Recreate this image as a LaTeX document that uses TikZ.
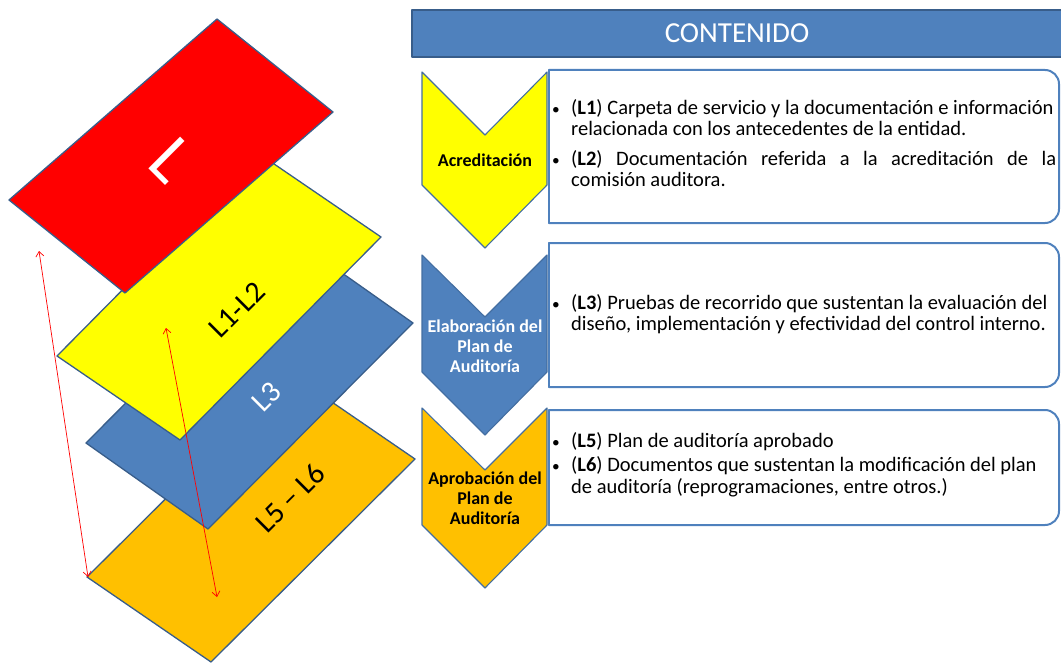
\documentclass[tikz,border=0pt]{standalone}
\usepackage{fontspec}
\setmainfont{Carlito}
\usetikzlibrary{arrows.meta}

\definecolor{rojo}{RGB}{255,0,0}
\definecolor{amarillo}{RGB}{255,255,0}
\definecolor{azul}{RGB}{79,129,189}
\definecolor{naranja}{RGB}{255,192,0}
\definecolor{borde}{RGB}{56,93,138}

\newcommand{\vineta}{\makebox[20pt][l]{\hspace{1pt}\scalebox{.75}{\textbullet}}}

\begin{document}
\begin{tikzpicture}[x={(1pt,0pt)}, y={(0pt,-1pt)}, line join=round, line cap=round,
	hoja/.style={draw=borde, line width=1.3pt},
	galon/.style={draw=azul!85!black, line width=1.1pt},
	caja/.style={draw=azul, line width=2pt},
	flecha/.style={<->, >={Straight Barb[length=5pt,width=8pt]}, rojo, line width=.7pt},
	etiq/.style={font=\fontsize{18}{20}\selectfont\bfseries, align=center, inner sep=0pt},
	texto/.style={font=\fontsize{20.5}{21.5}\selectfont, align=left, inner sep=0pt, anchor=north west}]

	\useasboundingbox (0,0) rectangle (1061,666);

	% Esquinas de las hojas (izquierda, superior, derecha, inferior)
	\coordinate (NI) at (87,577);  \coordinate (NS) at (291,374);
	\coordinate (ND) at (415,459); \coordinate (NB) at (211,662);
	\coordinate (ZI) at (86,443);  \coordinate (ZS) at (291,237);
	\coordinate (ZD) at (413,323); \coordinate (ZB) at (208,529);
	\coordinate (AI) at (57,356);  \coordinate (AS) at (258,153);
	\coordinate (AD) at (381,237); \coordinate (AB) at (180,440);
	\coordinate (RI) at (9,200);   \coordinate (RS) at (217,19);
	\coordinate (RD) at (333,112); \coordinate (RB) at (125,293);

	% Hojas apiladas, de abajo hacia arriba
	\filldraw[hoja, fill=naranja] (NI) -- (NS) -- (ND) -- (NB) -- cycle;
	\filldraw[hoja, fill=azul] (ZI) -- (ZS) -- (ZD) -- (ZB) -- cycle;
	\filldraw[hoja, fill=amarillo] (AI) -- (AS) -- (AD) -- (AB) -- cycle;
	\filldraw[hoja, fill=rojo] (RI) -- (RS) -- (RD) -- (RB) -- cycle;

	% Rotulos de las hojas
	\node[text=white, rotate=-45, font=\fontsize{70}{70}\selectfont] (letraL) at (172,160) {L};
	\node[rotate=45, font=\fontsize{30}{30}\selectfont] (hojaA) at (237,310) {L1-L2};
	\node[rotate=45, text=white, font=\fontsize{30}{30}\selectfont] (hojaZ) at (267,397) {L3};
	\node[rotate=45, font=\fontsize{30}{30}\selectfont] (hojaN) at (290,498) {L5 -- L6};

	% Flechas rojas
	\coordinate (f1a) at (39,251); \coordinate (f1b) at (88,577);
	\coordinate (f2a) at (166,328); \coordinate (f2b) at (217,597);
	\draw[flecha] (f1a) -- (f1b);
	\draw[flecha] (f2a) -- (f2b);

	% Encabezado
	\filldraw[fill=azul, draw=borde, line width=1.5pt] (412,10) rectangle (1066,57);
	\node[text=white, font=\fontsize{29}{29}\selectfont] (titulo) at (737,33) {CONTENIDO};

	% Cajas de texto
	\draw[caja, rounded corners=14pt] (549,70) -- (1059,70) -- (1059,223) -- (549,223);
	\draw[caja] (549,70) -- (549,223);
	\draw[caja, rounded corners=14pt] (549,243) -- (1059,243) -- (1059,387) -- (549,387);
	\draw[caja] (549,243) -- (549,387);
	\draw[caja, rounded corners=14pt] (549,410) -- (1059,410) -- (1059,525) -- (549,525);
	\draw[caja] (549,410) -- (549,525);

	% Galones
	\filldraw[galon, fill=amarillo] (422,72) -- (485,135) -- (547,72) -- (547,185) -- (485,248) -- (422,185) -- cycle;
	\filldraw[galon, fill=azul] (422,255) -- (485,317) -- (547,255) -- (547,372) -- (485,435) -- (422,372) -- cycle;
	\filldraw[galon, fill=naranja] (422,408) -- (485,470) -- (547,408) -- (547,525) -- (485,588) -- (422,525) -- cycle;

	\node[etiq] (acred) at (485,160) {Acreditación};
	\node[etiq, text=white] (elab) at (485,346) {Elaboración del\\Plan de\\Auditoría};
	\node[etiq] (aprob) at (485,498) {Aprobación del\\Plan de\\Auditoría};

	% Contenido de cada caja
	\node[texto] (txtA) at (551,99) {\vineta(\textbf{L1}) Carpeta de servicio y la documentación e información\\
		\hspace*{20pt}relacionada con los antecedentes de la entidad.\\[8pt]
		\vineta\makebox[485pt][s]{(\textbf{L2}) Documentación referida a la acreditación de la}\\
		\hspace*{20pt}comisión auditora.};
	\node[texto] (txtZ) at (551,294) {\vineta(\textbf{L3}) Pruebas de recorrido que sustentan la evaluación del\\
		\hspace*{20pt}diseño, implementación y efectividad del control interno.};
	\node[texto] (txtN) at (551,432) {\vineta(\textbf{L5}) Plan de auditoría aprobado\\[3pt]
		\vineta(\textbf{L6}) Documentos que sustentan la modificación del plan\\
		\hspace*{20pt}de auditoría (reprogramaciones, entre otros.)};

\end{tikzpicture}
\end{document}
